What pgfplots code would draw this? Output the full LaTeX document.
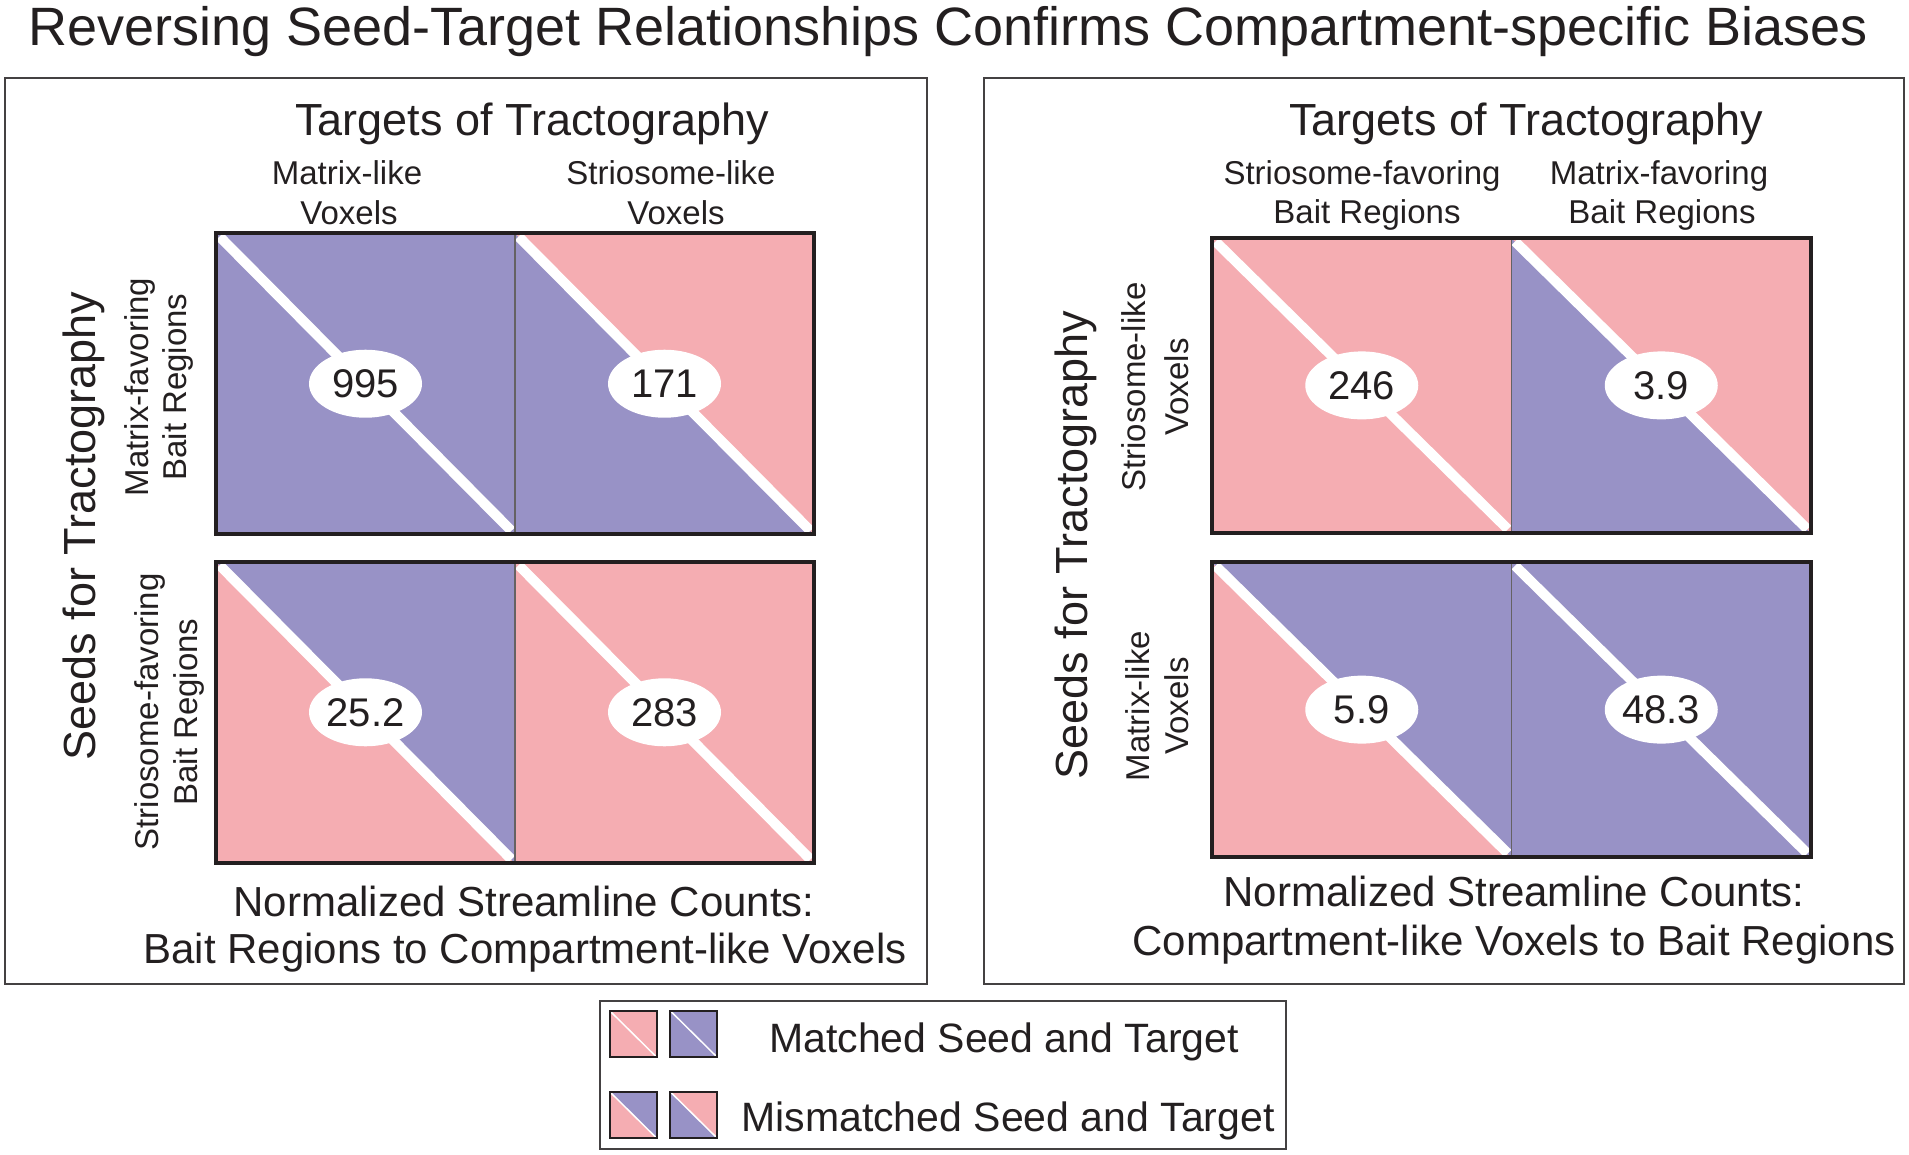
\documentclass[border=0pt]{standalone}
\usepackage{fontspec}
\setmainfont{Liberation Sans}
\usepackage{pgfplots}
\pgfplotsset{compat=1.18}
\usetikzlibrary{shapes.geometric}

\definecolor{purp}{RGB}{152,146,198}
\definecolor{pinkc}{RGB}{245,173,178}
\definecolor{ink}{RGB}{35,31,32}
\newcommand\fs[1]{\fontsize{#1}{#1}\selectfont}

\pgfplotsset{
  cellgrid/.style={hide axis, scale only axis, clip=false, xmin=0, xmax=2, ymin=0, anchor=south west},
  tri/.style={fill=#1, draw=#1, line width=0.4pt},
  stripe/.style={white, line width=10pt},
  vals/.style={only marks, mark=none, nodes near coords, nodes near coords align={center},
    point meta=explicit symbolic,
    every node near coord/.append style={ellipse, fill=white, minimum width=113pt,
      minimum height=68pt, inner sep=0pt, anchor=center, font=\fs{40}, text=ink}},
}

\begin{document}
\begin{tikzpicture}[x=1pt, y=-1pt, every node/.style={text=ink}]
\useasboundingbox (0,0) rectangle (1909,1154);

% title
\node[anchor=base, font=\fs{54}] at (948,45) {Reversing Seed-Target Relationships Confirms Compartment-specific Biases};

% panel frames
\draw[ink!85, line width=2pt] (5,78) rectangle (927,984);
\draw[ink!85, line width=2pt] (984,78) rectangle (1904,984);

% ---------- left panel: bait regions -> compartment-like voxels
\begin{axis}[cellgrid, at={(216pt,-863pt)}, width=598pt, height=630pt, ymax=2.09]
% top row (matrix-favoring seeds)
\addplot[tri=purp]  coordinates {(0,2.09) (0,1.09) (1,1.09)} -- cycle;
\addplot[tri=purp]  coordinates {(0,2.09) (1,2.09) (1,1.09)} -- cycle;
\addplot[tri=purp]  coordinates {(1,2.09) (1,1.09) (2,1.09)} -- cycle;
\addplot[tri=pinkc] coordinates {(1,2.09) (2,2.09) (2,1.09)} -- cycle;
% bottom row (striosome-favoring seeds)
\addplot[tri=pinkc] coordinates {(0,1) (0,0) (1,0)} -- cycle;
\addplot[tri=purp]  coordinates {(0,1) (1,1) (1,0)} -- cycle;
\addplot[tri=pinkc] coordinates {(1,1) (1,0) (2,0)} -- cycle;
\addplot[tri=pinkc] coordinates {(1,1) (2,1) (2,0)} -- cycle;
% diagonal stripes
\addplot[stripe] coordinates {(0.012,2.078) (0.988,1.102)};
\addplot[stripe] coordinates {(1.012,2.078) (1.988,1.102)};
\addplot[stripe] coordinates {(0.012,0.988) (0.988,0.012)};
\addplot[stripe] coordinates {(1.012,0.988) (1.988,0.012)};
\draw[ink!70, line width=1.5pt] (axis cs:1,1.09) -- (axis cs:1,2.09);
\draw[ink!70, line width=1.5pt] (axis cs:1,0) -- (axis cs:1,1);
\draw[ink, line width=4pt] (axis cs:0,1.09) rectangle (axis cs:2,2.09);
\draw[ink, line width=4pt] (axis cs:0,0) rectangle (axis cs:2,1);
\addplot[vals] coordinates {(0.5,1.59) [995] (1.5,1.59) [171] (0.5,0.5) [25.2] (1.5,0.5) [283]};
\end{axis}

\node[anchor=base, font=\fs{45}] at (532,135) {Targets of Tractography};
\node[anchor=base, font=\fs{33}] at (347,184) {Matrix-like};
\node[anchor=base, font=\fs{33}] at (349,224) {Voxels};
\node[anchor=base, font=\fs{33}] at (671,184) {Striosome-like};
\node[anchor=base, font=\fs{33}] at (676,224) {Voxels};
\node[anchor=base, font=\fs{45}, rotate=90] at (95,526) {Seeds for Tractography};
\node[anchor=base, font=\fs{33}, rotate=90] at (148,387) {Matrix-favoring};
\node[anchor=base, font=\fs{33}, rotate=90] at (186,387) {Bait Regions};
\node[anchor=base, font=\fs{33}, rotate=90] at (158,712) {Striosome-favoring};
\node[anchor=base, font=\fs{33}, rotate=90] at (197,712) {Bait Regions};
\node[anchor=base, font=\fs{42}] at (524,916) {Normalized Streamline Counts:};
\node[anchor=base, font=\fs{42}] at (525,963) {Bait Regions to Compartment-like Voxels};

% ---------- right panel: compartment-like voxels -> bait regions
\begin{axis}[cellgrid, at={(1212pt,-857pt)}, width=599pt, height=619pt, ymax=2.1]
% top row (striosome-like seeds)
\addplot[tri=pinkc] coordinates {(0,2.1) (0,1.1) (1,1.1)} -- cycle;
\addplot[tri=pinkc] coordinates {(0,2.1) (1,2.1) (1,1.1)} -- cycle;
\addplot[tri=purp]  coordinates {(1,2.1) (1,1.1) (2,1.1)} -- cycle;
\addplot[tri=pinkc] coordinates {(1,2.1) (2,2.1) (2,1.1)} -- cycle;
% bottom row (matrix-like seeds)
\addplot[tri=pinkc] coordinates {(0,1) (0,0) (1,0)} -- cycle;
\addplot[tri=purp]  coordinates {(0,1) (1,1) (1,0)} -- cycle;
\addplot[tri=purp]  coordinates {(1,1) (1,0) (2,0)} -- cycle;
\addplot[tri=purp]  coordinates {(1,1) (2,1) (2,0)} -- cycle;
\addplot[stripe] coordinates {(0.012,2.088) (0.988,1.112)};
\addplot[stripe] coordinates {(1.012,2.088) (1.988,1.112)};
\addplot[stripe] coordinates {(0.012,0.988) (0.988,0.012)};
\addplot[stripe] coordinates {(1.012,0.988) (1.988,0.012)};
\draw[ink!70, line width=1.5pt] (axis cs:1,1.1) -- (axis cs:1,2.1);
\draw[ink!70, line width=1.5pt] (axis cs:1,0) -- (axis cs:1,1);
\draw[ink, line width=4pt] (axis cs:0,1.1) rectangle (axis cs:2,2.1);
\draw[ink, line width=4pt] (axis cs:0,0) rectangle (axis cs:2,1);
\addplot[vals] coordinates {(0.5,1.6) [246] (1.5,1.6) [3.9] (0.5,0.5) [5.9] (1.5,0.5) [48.3]};
\end{axis}

\node[anchor=base, font=\fs{45}] at (1526,135) {Targets of Tractography};
\node[anchor=base, font=\fs{33}] at (1362,184) {Striosome-favoring};
\node[anchor=base, font=\fs{33}] at (1367,223) {Bait Regions};
\node[anchor=base, font=\fs{33}] at (1659,184) {Matrix-favoring};
\node[anchor=base, font=\fs{33}] at (1662,223) {Bait Regions};
\node[anchor=base, font=\fs{45}, rotate=90] at (1087,545) {Seeds for Tractography};
\node[anchor=base, font=\fs{33}, rotate=90] at (1145,387) {Striosome-like};
\node[anchor=base, font=\fs{33}, rotate=90] at (1188,387) {Voxels};
\node[anchor=base, font=\fs{33}, rotate=90] at (1149,706) {Matrix-like};
\node[anchor=base, font=\fs{33}, rotate=90] at (1188,706) {Voxels};
\node[anchor=base, font=\fs{42}] at (1514,906) {Normalized Streamline Counts:};
\node[anchor=base, font=\fs{42}] at (1514,955) {Compartment-like Voxels to Bait Regions};

% ---------- legend
\draw[ink!85, line width=1.5pt] (600,1001) rectangle (1286,1149);
\begin{axis}[hide axis, scale only axis, clip=false, anchor=south west, at={(610pt,-1138pt)},
  width=107pt, height=127pt, xmin=0, xmax=2.3, ymin=0, ymax=2.76]
% matched
\addplot[tri=pinkc] coordinates {(0,1.76) (1,1.76) (1,2.76) (0,2.76)} -- cycle;
\addplot[tri=purp]  coordinates {(1.3,1.76) (2.3,1.76) (2.3,2.76) (1.3,2.76)} -- cycle;
% mismatched
\addplot[tri=pinkc] coordinates {(0,1) (0,0) (1,0)} -- cycle;
\addplot[tri=purp]  coordinates {(0,1) (1,1) (1,0)} -- cycle;
\addplot[tri=purp]  coordinates {(1.3,1) (1.3,0) (2.3,0)} -- cycle;
\addplot[tri=pinkc] coordinates {(1.3,1) (2.3,1) (2.3,0)} -- cycle;
\addplot[white, line width=1.5pt] coordinates {(0,2.76) (1,1.76)};
\addplot[white, line width=1.5pt] coordinates {(1.3,2.76) (2.3,1.76)};
\addplot[white, line width=1.5pt] coordinates {(0,1) (1,0)};
\addplot[white, line width=1.5pt] coordinates {(1.3,1) (2.3,0)};
\draw[ink, line width=2pt] (axis cs:0,1.76) rectangle (axis cs:1,2.76);
\draw[ink, line width=2pt] (axis cs:1.3,1.76) rectangle (axis cs:2.3,2.76);
\draw[ink, line width=2pt] (axis cs:0,0) rectangle (axis cs:1,1);
\draw[ink, line width=2pt] (axis cs:1.3,0) rectangle (axis cs:2.3,1);
\end{axis}
\node[anchor=base, font=\fs{41}] at (1004,1052) {Matched Seed and Target};
\node[anchor=base, font=\fs{41}] at (1008,1131) {Mismatched Seed and Target};
\end{tikzpicture}
\end{document}
